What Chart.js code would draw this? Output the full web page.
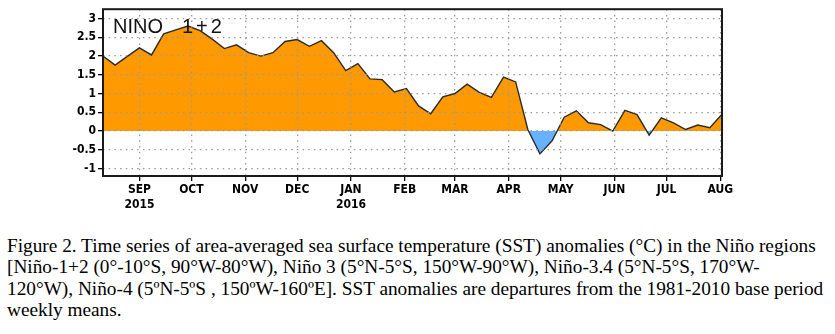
<!DOCTYPE html>
<html>
<head>
<meta charset="utf-8">
<script src="https://cdn.jsdelivr.net/npm/chart.js@4.4.1/dist/chart.umd.min.js"></script>
<style>
  body { margin: 0; background: #fff; width: 835px; height: 334px; overflow: hidden; position: relative; }
  #chart { position: absolute; left: 0; top: 0; }
  #caption {
    position: absolute; left: 7px; top: 234.5px;
    font-family: 'Liberation Serif', 'Times New Roman', serif;
    font-size: 19.3px; line-height: 21.6px; color: #000; white-space: nowrap;
  }
</style>
</head>
<body>
<canvas id="chart" width="835" height="220"></canvas>
<div id="caption">
Figure 2. Time series of area-averaged sea surface temperature (SST) anomalies (°C) in the Niño regions<br>
[Niño-1+2 (0°-10°S, 90°W-80°W), Niño 3 (5°N-5°S, 150°W-90°W), Niño-3.4 (5°N-5°S, 170°W-<br>
120°W), Niño-4 (5ºN-5ºS , 150ºW-160ºE]. SST anomalies are departures from the 1981-2010 base period<br>
weekly means.
</div>
<script>
const weeks = [
  '2015-08-11', '2015-08-18', '2015-08-25', '2015-09-01', '2015-09-08', '2015-09-15', '2015-09-22', '2015-09-29',
  '2015-10-06', '2015-10-13', '2015-10-20', '2015-10-27', '2015-11-03', '2015-11-10', '2015-11-17', '2015-11-24',
  '2015-12-01', '2015-12-08', '2015-12-15', '2015-12-22', '2015-12-29', '2016-01-05', '2016-01-12', '2016-01-19',
  '2016-01-26', '2016-02-02', '2016-02-09', '2016-02-16', '2016-02-23', '2016-03-01', '2016-03-08', '2016-03-15',
  '2016-03-22', '2016-03-29', '2016-04-05', '2016-04-12', '2016-04-19', '2016-04-26', '2016-05-03', '2016-05-10',
  '2016-05-17', '2016-05-24', '2016-05-31', '2016-06-07', '2016-06-14', '2016-06-21', '2016-06-28', '2016-07-05',
  '2016-07-12', '2016-07-19', '2016-07-26', '2016-08-02'
]
const anomalies = [
  2.00, 1.76, 1.99, 2.22, 2.03, 2.59, 2.70, 2.80,
  2.68, 2.45, 2.20, 2.30, 2.09, 2.00, 2.09, 2.39,
  2.44, 2.26, 2.41, 2.09, 1.61, 1.80, 1.39, 1.37,
  1.04, 1.13, 0.67, 0.46, 0.91, 1.00, 1.25, 1.03,
  0.90, 1.44, 1.31, 0.04, -0.61, -0.26, 0.37, 0.54,
  0.22, 0.17, 0.00, 0.55, 0.44, -0.11, 0.35, 0.22,
  0.04, 0.16, 0.09, 0.45
]
const monthStarts = ['2015-09-01', '2015-10-01', '2015-11-01', '2015-12-01', '2016-01-01', '2016-02-01',
  '2016-03-01', '2016-04-01', '2016-05-01', '2016-06-01', '2016-07-01', '2016-08-01']
const monthLabels = [['SEP', '2015'], 'OCT', 'NOV', 'DEC', ['JAN', '2016'], 'FEB',
  'MAR', 'APR', 'MAY', 'JUN', 'JUL', 'AUG']
const yTicks = [-1, -0.5, 0, 0.5, 1, 1.5, 2, 2.5, 3]
const yTickLabels = ['-1', '-0.5', '0', '0.5', '1', '1.5', '2', '2.5', '3']
const regionName = ['NINO', '1+2']

// days since 2015-09-01
const toDay = s => (Date.parse(s + 'T00:00:00Z') - Date.parse('2015-09-01T00:00:00Z')) / 86400000

const points = weeks.map((w, i) => ({ x: toDay(w), y: anomalies[i] }))
const monthDays = monthStarts.map(toDay)

const tickFont = { family: "'Liberation Sans Narrow', 'DejaVu Sans Condensed', sans-serif", size: 12, weight: 'bold' }

const framePlugin = {
  id: 'frame',
  afterDraw(chart) {
    const { ctx, chartArea: a } = chart
    ctx.save()
    ctx.strokeStyle = '#1a1a1a'
    ctx.lineWidth = 2
    ctx.strokeRect(a.left, a.top, a.right - a.left, a.bottom - a.top)
    ctx.fillStyle = '#111'
    ctx.font = "20px 'Liberation Sans', Arial, sans-serif"
    ctx.textBaseline = 'alphabetic'
    ctx.fillText(regionName[0], a.left + 10, a.top + 24)
    ctx.letterSpacing = '3px'
    ctx.fillText(regionName[1], a.left + 79, a.top + 24)
    ctx.restore()
  }
}

const context = document.getElementById('chart').getContext('2d')
const chart = new Chart(context, {
  type: 'line',
  data: {
    datasets: [{
      data: points,
      borderColor: '#2b2b2b',
      borderWidth: 1.4,
      pointRadius: 0,
      tension: 0,
      fill: { target: { value: 0 }, above: '#ff9900', below: '#66b2ff' }
    }]
  },
  options: {
    responsive: false,
    animation: false,
    layout: { padding: { top: 4, right: 113, left: 0, bottom: 0 } },
    plugins: { legend: { display: false }, tooltip: { enabled: false } },
    scales: {
      x: {
        type: 'linear',
        min: toDay('2015-08-11'),
        max: toDay('2016-08-02'),
        afterFit: s => { s.height = 44 },
        afterBuildTicks: s => { s.ticks = monthDays.map(v => ({ value: v })) },
        ticks: {
          autoSkip: false, maxRotation: 0, color: '#000', font: tickFont, padding: 2,
          callback: (v, i) => monthLabels[i]
        },
        grid: {
          color: '#9a9a9a', lineWidth: 1.3, z: 1,
          tickColor: '#000', tickLength: 5, tickWidth: 1.3, tickBorderDash: []
        },
        border: { display: false, dash: [1.5, 4.2] }
      },
      y: {
        min: -1.2,
        max: 3.25,
        afterFit: s => { s.width = 103 },
        afterBuildTicks: s => { s.ticks = yTicks.map(v => ({ value: v })) },
        ticks: {
          color: '#000', font: tickFont, padding: 2,
          callback: (v, i) => yTickLabels[i]
        },
        grid: {
          color: '#9a9a9a', lineWidth: 1.3, z: 1,
          tickColor: '#000', tickLength: 5, tickWidth: 1.3, tickBorderDash: []
        },
        border: { display: false, dash: [1.5, 4.2] }
      }
    }
  },
  plugins: [framePlugin]
})
</script>
</body>
</html>
